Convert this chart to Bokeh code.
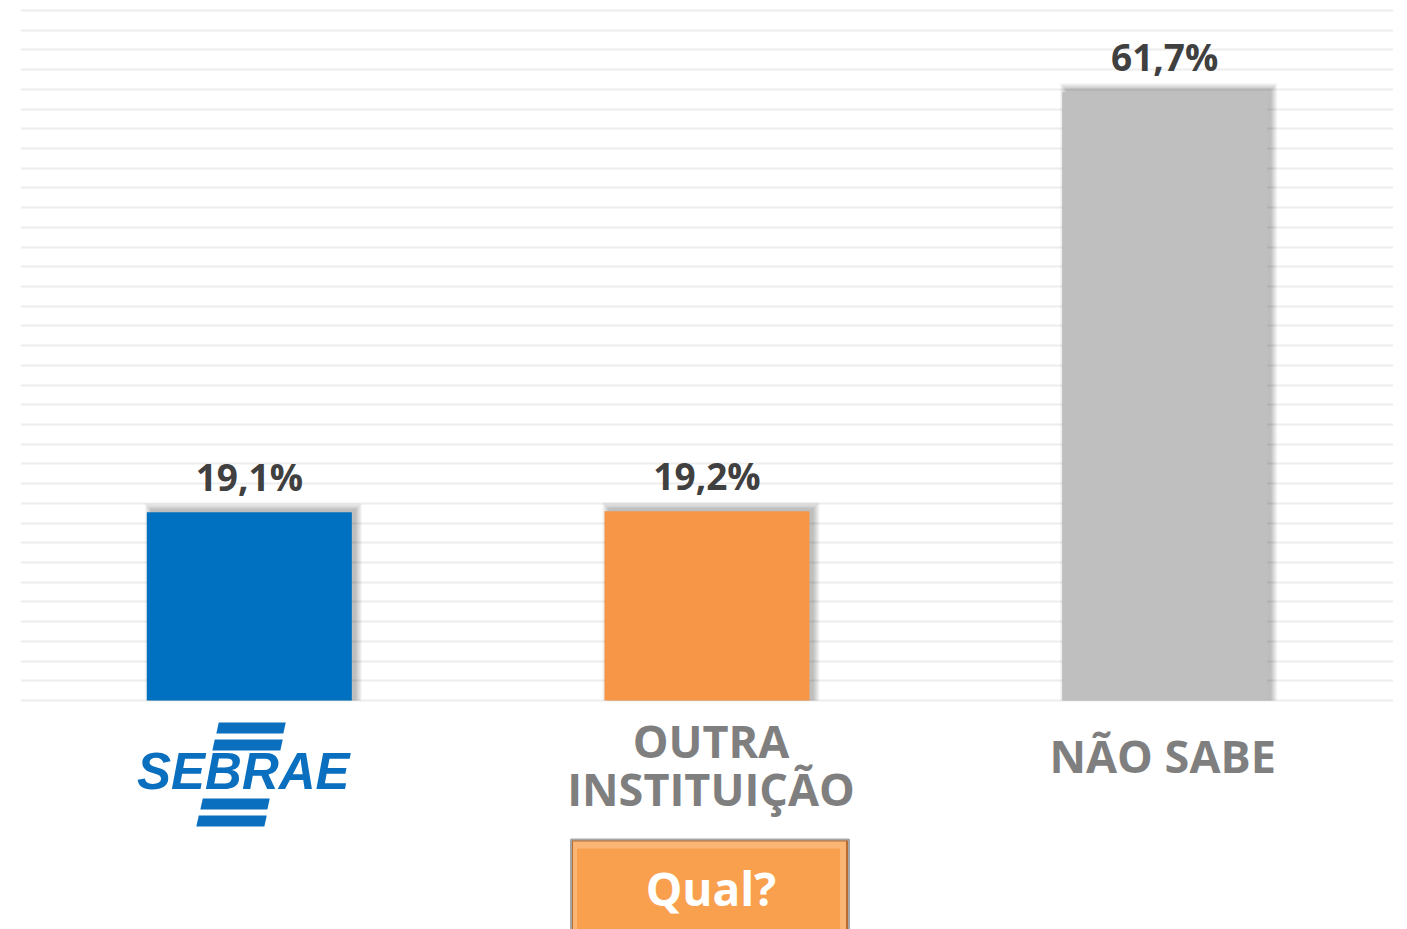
from bokeh.plotting import figure
from bokeh.models import Range1d, FixedTicker, ColumnDataSource
from bokeh.core.properties import value
from bokeh.embed import file_html
from bokeh.resources import INLINE

# ---------------- data ----------------
categories = ["SEBRAE", "OUTRA INSTITUIÇÃO", "NÃO SABE"]
values = [19.1, 19.2, 61.7]
value_labels = ["19,1%", "19,2%", "61,7%"]
bar_colors = ["#0070C0", "#F79646", "#BFBFBF"]
axis_label_lines = [[], ["OUTRA", "INSTITUIÇÃO"], ["NÃO SABE"]]
grid_ticks = list(range(0, 72, 2))
logo_text = "SEBRAE"
button_text = "Qual?"

# ---------------- layout ----------------
W, H = 1407, 929
BL, BR, BT, BB = 20, 14, 8, 0
frame_w = W - BL - BR
frame_h = H - BT - BB
ypx = 690 / 70                     # px per value unit
y_max = 70 + 2 / ypx
zero_px = 692                      # px from frame top to value 0
y_min = -(frame_h - zero_px) / ypx
n = len(categories)
xpx = frame_w / n                  # px per category unit
bar_w = 205 / xpx
BASE_FIX = 0.37                    # baseline correction (em)
label_nudge = [0, 4, -2]           # px horizontal nudge of category labels

cx = [i + 0.5 for i in range(n)]


def dx(px):
    return px / xpx


def dy(px):
    return px / ypx


p = figure(width=W, height=H,
           x_range=Range1d(0, n), y_range=Range1d(y_min, y_max),
           x_axis_location=None, y_axis_location=None,
           output_backend="svg", toolbar_location=None,
           min_border_left=BL, min_border_right=BR,
           min_border_top=BT, min_border_bottom=BB)
p.outline_line_color = None
p.background_fill_color = "white"
p.border_fill_color = "white"
p.xgrid.visible = False
p.ygrid.ticker = FixedTicker(ticks=grid_ticks)
p.ygrid.grid_line_color = "#EDEDED"
p.ygrid.grid_line_width = 2

# ---------------- bar shadows ----------------
for k in range(7):
    e = k
    src = ColumnDataSource(dict(
        left=[c - bar_w / 2 + dx(4 - e) for c in cx],
        right=[c + bar_w / 2 + dx(4 + e) for c in cx],
        top=[v + dy(3 + e) for v in values],
        bottom=[0] * n,
    ))
    p.quad(left="left", right="right", top="top", bottom="bottom", source=src,
           fill_color="black", fill_alpha=0.04, line_color=None)

# ---------------- bars ----------------
bars = ColumnDataSource(dict(x=cx, top=values, color=bar_colors, label=value_labels))
p.vbar(x="x", top="top", bottom=0, width=bar_w, fill_color="color",
       line_color=None, source=bars)

vfs = 37
p.text(x="x", y="top", text="label", source=bars,
       text_font=value("Open Sans"), text_font_style="bold",
       text_font_size=f"{vfs}px", text_color="#404040",
       text_align="center", text_baseline="alphabetic",
       y_offset=-22 - BASE_FIX * vfs)

# ---------------- category labels ----------------
cfs = 45
lx, ly, lt = [], [], []
for i, lines in enumerate(axis_label_lines):
    first = 72 - (len(lines) - 1) * 15
    for j, line in enumerate(lines):
        lx.append(cx[i] + dx(label_nudge[i]))
        ly.append(-dy(first + j * 48 - BASE_FIX * cfs))
        lt.append(line)
p.text(x=lx, y=ly, text=lt, text_font=value("Open Sans"), text_font_style="bold",
       text_font_size=f"{cfs}px", text_color="#7F7F7F",
       text_align="center", text_baseline="alphabetic")

# ---------------- SEBRAE logo ----------------
logo_c = cx[0]
logo_blue = "#0A6FBE"
lfs = 51
p.text(x=[logo_c - dx(6)], y=[-dy(90 - BASE_FIX * lfs)], text=[logo_text],
       text_font=value("Liberation Sans"), text_font_style="bold italic",
       text_font_size=f"{lfs}px", text_color=logo_blue,
       text_align="center", text_baseline="alphabetic")
# stripes: (left px at bottom, right px at bottom, bottom px, top px) relative to center / zero line
stripes = [(-33, 34, 33, 22), (-37, 31, 50, 39), (-49, 18, 109, 98), (-53, 15, 126, 115)]
slant = 0.22
xs, ys = [], []
for l, r, b, t in stripes:
    h = b - t
    xs.append([logo_c + dx(l), logo_c + dx(r), logo_c + dx(r + h * slant), logo_c + dx(l + h * slant)])
    ys.append([-dy(b), -dy(b), -dy(t), -dy(t)])
p.patches(xs=xs, ys=ys, fill_color=logo_blue, line_color=None)

# ---------------- "Qual?" button ----------------
bc = cx[1]
bl, br, bt, bb = -136, 142, 139, 235
p.quad(left=[bc + dx(bl)], right=[bc + dx(br)], top=[-dy(bt)], bottom=[-dy(bb)],
       fill_color="#B86C32", line_color="#A6A6A6", line_width=2)
p.quad(left=[bc + dx(bl + 2)], right=[bc + dx(br - 3)], top=[-dy(bt + 2)], bottom=[-dy(bb)],
       fill_color="#FBB574", line_color=None)
p.quad(left=[bc + dx(bl + 6)], right=[bc + dx(br - 9)], top=[-dy(bt + 9)], bottom=[-dy(bb)],
       fill_color="#F9A04E", line_color=None)
qfs = 46
p.text(x=[bc + dx(4)], y=[-dy(205 - BASE_FIX * qfs)], text=[button_text],
       text_font=value("Open Sans"), text_font_style="bold",
       text_font_size=f"{qfs}px", text_color="white",
       text_align="center", text_baseline="alphabetic")

open("out.html", "w").write(file_html(p, INLINE))
